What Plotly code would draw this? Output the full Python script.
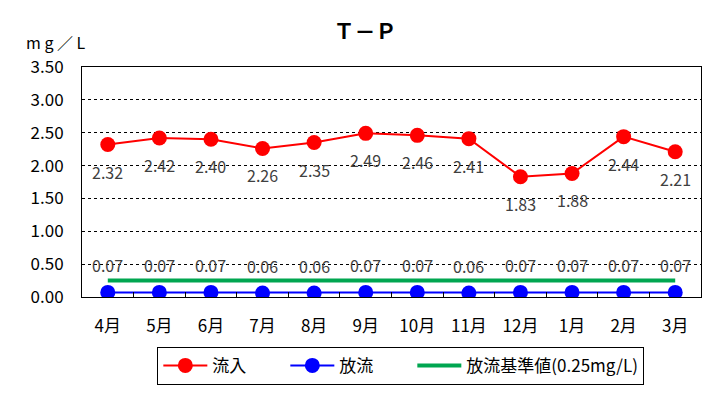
import plotly.graph_objects as go

months = ["4月", "5月", "6月", "7月", "8月", "9月", "10月", "11月", "12月", "1月", "2月", "3月"]
inflow = [2.32, 2.42, 2.40, 2.26, 2.35, 2.49, 2.46, 2.41, 1.83, 1.88, 2.44, 2.21]
outflow = [0.07, 0.07, 0.07, 0.06, 0.06, 0.07, 0.07, 0.06, 0.07, 0.07, 0.07, 0.07]
standard = [0.25] * len(months)

FONT = "Noto Sans CJK JP"
W, H = 704, 401  # page body adds an 8px offset
PAD = "\u3000\u3000"

fig = go.Figure()
fig.add_trace(go.Scatter(x=months, y=standard, mode="lines", name="放流基準値(0.25mg/L)",
                         line=dict(color="#00a650", width=4), legendrank=3))
fig.add_trace(go.Scatter(x=months, y=inflow, mode="lines+markers", name="流入" + PAD,
                         line=dict(color="#ff0000", width=2),
                         marker=dict(color="#ff0000", size=15), legendrank=1))
fig.add_trace(go.Scatter(x=months, y=outflow, mode="lines+markers", name="放流" + PAD,
                         line=dict(color="#0000ff", width=2),
                         marker=dict(color="#0000ff", size=15), legendrank=2))

annotations = []
for m, v in zip(months, inflow):
    annotations.append(dict(x=m, y=v, text=f"{v:.2f}", showarrow=False, yshift=-27,
                            font=dict(size=16, color="#404040", family=FONT)))
for m, v in zip(months, outflow):
    annotations.append(dict(x=m, y=v, text=f"{v:.2f}", showarrow=False, yshift=27,
                            font=dict(size=16, color="#404040", family=FONT)))
annotations.append(dict(xref="paper", yref="paper", x=-0.094, y=1.0, yshift=25, xanchor="left",
                        yanchor="middle", text="m g ／ L", showarrow=False,
                        font=dict(size=16, color="#000000", family=FONT)))
fig.update_layout(annotations=annotations)

fig.update_layout(
    width=W, height=H,
    margin=dict(l=74, r=11, t=59, b=112),
    paper_bgcolor="white", plot_bgcolor="white",
    font=dict(family=FONT, size=15, color="#000000"),
    title=dict(text="<b>Ｔ－Ｐ</b>", x=0.507, xanchor="center", y=0.94, yanchor="middle",
               font=dict(size=21, family=FONT, color="#000000")),
    showlegend=True,
    legend=dict(orientation="h", xref="container", yref="container", x=0.558, xanchor="center",
                y=0.155, yanchor="top", bordercolor="#000000", borderwidth=1,
                font=dict(size=17, family=FONT), bgcolor="white", itemwidth=44,
                traceorder="normal"),
)
fig.update_xaxes(type="category", range=[-0.5, 11.5], showline=True, linecolor="#000000", linewidth=1,
                 mirror=True, ticks="inside", ticklen=5, tickcolor="#000000", tickson="boundaries",
                 showgrid=False, tickfont=dict(size=17, family=FONT), ticklabelstandoff=14,
                 automargin=False)
fig.update_yaxes(range=[0, 3.5], dtick=0.5, tickformat=".2f", showline=True, linecolor="#000000",
                 linewidth=1, mirror=True, ticks="", showgrid=True, gridcolor="#000000", gridwidth=1,
                 griddash="dot", zeroline=False, tickfont=dict(size=17, family=FONT),
                 ticklabelstandoff=14, automargin=False)

fig.write_html("out.html")
